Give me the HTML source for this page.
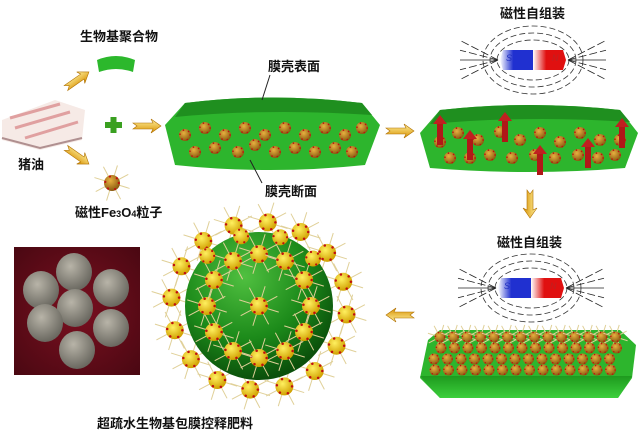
<!DOCTYPE html>
<html><head><meta charset="utf-8">
<style>
html,body{margin:0;padding:0;background:#fff;}
svg{display:block}
text{font-family:"Liberation Sans","Noto Sans CJK SC",sans-serif;font-weight:bold;fill:#111;}
</style></head><body>
<svg id="s" width="640" height="432" viewBox="0 0 640 432" xmlns="http://www.w3.org/2000/svg">
<defs>
<radialGradient id="pg" cx="40%" cy="35%" r="65%"><stop offset="0" stop-color="#e8b040"/><stop offset="1" stop-color="#8a5a10"/></radialGradient>
<radialGradient id="yg" cx="40%" cy="35%" r="65%"><stop offset="0" stop-color="#fff060"/><stop offset="1" stop-color="#d0a000"/></radialGradient>
<radialGradient id="sph" cx="40%" cy="30%" r="70%"><stop offset="0" stop-color="#50c040"/><stop offset="0.6" stop-color="#1c8a1a"/><stop offset="1" stop-color="#0b500b"/></radialGradient>
<linearGradient id="ar" x1="0" y1="0" x2="0" y2="1"><stop offset="0" stop-color="#fff2a0"/><stop offset="1" stop-color="#d89000"/></linearGradient>
<linearGradient id="sg" x1="0" y1="0" x2="1" y2="0"><stop offset="0" stop-color="#fff"/><stop offset="0.4" stop-color="#2030d0"/></linearGradient>
<linearGradient id="ng" x1="0" y1="0" x2="1" y2="0"><stop offset="0" stop-color="#fff"/><stop offset="0.4" stop-color="#e01010"/></linearGradient>
<linearGradient id="gs" x1="0" y1="0" x2="0" y2="1"><stop offset="0" stop-color="#1e9a1e"/><stop offset="1" stop-color="#3cd03c"/></linearGradient>
<radialGradient id="photo" cx="50%" cy="50%" r="70%"><stop offset="0" stop-color="#7a1020"/><stop offset="1" stop-color="#4a0812"/></radialGradient>
<radialGradient id="ball" cx="40%" cy="35%" r="65%"><stop offset="0" stop-color="#b8b4a8"/><stop offset="1" stop-color="#6a6860"/></radialGradient>
</defs>

<text x="80" y="41" font-size="13">生物基聚合物</text>
<text x="18" y="169" font-size="13">猪油</text>
<text x="75" y="217" font-size="13">磁性Fe<tspan font-size="9">3</tspan>O<tspan font-size="9">4</tspan>粒子</text>
<text x="268" y="71" font-size="13">膜壳表面</text>
<text x="265" y="196" font-size="13">膜壳断面</text>
<text x="500" y="18" font-size="13">磁性自组装</text>
<text x="497" y="247" font-size="13">磁性自组装</text>
<text x="97" y="428" font-size="13">超疏水生物基包膜控释肥料</text>

<g>
<path d="M2 120 L55 100 L85 110 L82 140 L40 150 L2 140Z" fill="#f6eae6"/>
<path d="M10 118 L60 104 M15 128 L70 112 M25 138 L78 122" stroke="#e0a0a0" stroke-width="3"/>
<path d="M2 138 L40 148 L82 138" stroke="#b09090" stroke-width="2" fill="none"/>
</g>
<path d="M97 60 Q116 52 135 60 L133 72 Q116 66 99 72Z" fill="#2cb82c"/>
<rect x="105" y="122" width="17" height="6" fill="#3aa020"/><rect x="110.5" y="117" width="6" height="16" fill="#3aa020"/>

<path d="M165 125 L185 103 Q270 92 362 103 L380 125 L365 165 Q270 175 175 165Z" fill="#2db52d"/>
<path d="M185 103 Q270 92 362 103 L372 115 Q270 108 175 117Z" fill="#1f8f1f"/>
<line x1="262" y1="100" x2="270" y2="75" stroke="#222"/>
<line x1="250" y1="160" x2="262" y2="183" stroke="#222"/>
<g id="p1"></g>

<path d="M420 133 L440 110 Q530 100 620 110 L638 133 L625 168 Q530 176 430 168Z" fill="#2db52d"/>
<path d="M440 110 Q530 100 620 110 L630 122 Q530 115 430 124Z" fill="#1f8f1f"/>
<g id="p2"></g>

<path d="M428 340 L440 330 L620 330 L636 345 L632 378 L618 398 L440 398 L420 378Z" fill="#2db52d"/>
<path d="M420 376 L632 376 L618 398 L440 398Z" fill="url(#gs)"/>
<g id="p3"></g>

<g id="mag1"></g><g id="mag2"></g>

<g fill="url(#ar)" stroke="#b07000" stroke-width="0.6">
<path d="M0 -3 L20 -3 L18 -7 L28 0 L18 7 L20 3 L0 3 L4 0Z" transform="translate(66,88) rotate(-35)"/>
<path d="M0 -3 L20 -3 L18 -7 L28 0 L18 7 L20 3 L0 3 L4 0Z" transform="translate(66,148) rotate(35)"/>
<path d="M0 -3 L20 -3 L18 -7 L28 0 L18 7 L20 3 L0 3 L4 0Z" transform="translate(133,126)"/>
<path d="M0 -3 L20 -3 L18 -7 L28 0 L18 7 L20 3 L0 3 L4 0Z" transform="translate(386,131)"/>
<path d="M0 -3 L20 -3 L18 -7 L28 0 L18 7 L20 3 L0 3 L4 0Z" transform="translate(530,190) rotate(90)"/>
<path d="M0 -3 L20 -3 L18 -7 L28 0 L18 7 L20 3 L0 3 L4 0Z" transform="translate(414,315) rotate(180)"/>
</g>

<rect x="14" y="247" width="126" height="128" fill="url(#photo)"/>
<g id="balls"></g>
<g id="sp"></g>
</svg>
<script>
var NS="http://www.w3.org/2000/svg";
function el(t,a,p){var e=document.createElementNS(NS,t);for(var k in a)e.setAttribute(k,a[k]);(p||document.getElementById('s')).appendChild(e);return e;}
function part(g,x,y,r,sp,fill){
 if(sp){for(var i=0;i<8;i++){var a=i*Math.PI/4+0.3;el('line',{x1:x,y1:y,x2:x+Math.cos(a)*r*2.3,y2:y+Math.sin(a)*r*2.3,stroke:'#e0d098','stroke-width':1},g);}}
 el('circle',{cx:x,cy:y,r:r,fill:fill||'url(#pg)'},g);
 for(var j=0;j<6;j++){var b=j*1.1;el('circle',{cx:x+Math.cos(b)*r*0.85,cy:y+Math.sin(b)*r*0.85,r:r*0.14,fill:'#c01010'},g);}
}
var g0=document.getElementById('s');
part(g0,112,183,8,true);
var p1=document.getElementById('p1');
[[185,135],[205,128],[225,135],[245,128],[265,135],[285,128],[305,135],[325,128],[345,135],[362,128],
 [195,152],[215,148],[238,152],[255,145],[275,152],[295,148],[315,152],[335,148],[352,152]].forEach(function(q){part(p1,q[0],q[1],6);});
var p2=document.getElementById('p2');
[[440,142],[458,133],[478,140],[500,132],[520,140],[540,133],[560,142],[580,133],[600,140],[620,140],
 [450,158],[470,158],[490,155],[512,158],[535,155],[555,158],[578,155],[598,158],[615,155]].forEach(function(q){part(p2,q[0],q[1],6);});
[[440,115],[505,112],[540,145],[470,130],[588,138],[622,118]].forEach(function(q){
 el('rect',{x:q[0]-3,y:q[1]+8,width:6,height:22,fill:'#b01818'},p2);
 el('path',{d:'M'+(q[0]-7)+' '+(q[1]+9)+' L'+q[0]+' '+q[1]+' L'+(q[0]+7)+' '+(q[1]+9)+'Z',fill:'#c02020'},p2);});
var p3=document.getElementById('p3');
for(var r=0;r<4;r++){for(var c=0;c<14;c++){var x=440+c*13.5+(r%2)*4-r*3,y=337+r*11;if(x<632)part(p3,x,y,5.5,r==0);}}
function mag(g,x,y){
 g=document.getElementById(g);
 var cx=x+33,cy=y+10;
 [20,27,34].forEach(function(rr){el('ellipse',{cx:cx,cy:cy,rx:rr+16,ry:rr,fill:'none',stroke:'#333','stroke-dasharray':'6 3','stroke-width':0.8},g);});
 [-1,1].forEach(function(s){var ex=s<0?x-2:x+68;[-14,-7,0,7,14].forEach(function(d){el('line',{x1:ex,y1:cy,x2:ex+s*38,y2:cy+d*1.4,stroke:'#222','stroke-width':0.8,'stroke-dasharray':d?'8 3':''},g);});});
 el('path',{d:'M'+(x+3)+' '+y+' L'+(x+33)+' '+y+' L'+(x+33)+' '+(y+20)+' L'+(x+3)+' '+(y+20)+' L'+x+' '+(y+10)+'Z',fill:'url(#sg)'},g);
 el('path',{d:'M'+(x+33)+' '+y+' L'+(x+63)+' '+y+' L'+(x+66)+' '+(y+10)+' L'+(x+63)+' '+(y+20)+' L'+(x+33)+' '+(y+20)+'Z',fill:'url(#ng)'},g);
 var t=el('text',{x:x+6,y:y+11,'font-size':9,style:'fill:#2030c0;font-weight:normal;font-style:italic'},g);t.textContent='S';
 var t2=el('text',{x:x+52,y:y+11,'font-size':9,style:'fill:#c02020;font-weight:normal;font-style:italic'},g);t2.textContent='N';
}
mag('mag1',500,50);mag('mag2',498,278);
var bl=document.getElementById('balls');
[[41,290],[74,272],[111,288],[75,308],[45,323],[111,328],[77,350]].forEach(function(q){el('ellipse',{cx:q[0],cy:q[1],rx:18,ry:19,fill:'url(#ball)'},bl);});
var sp=document.getElementById('sp');
var ocx=259,ocy=306;
for(var i=0;i<16;i++){var a=i*2*Math.PI/16+0.1;part(sp,ocx+Math.cos(a)*88,ocy+Math.sin(a)*84,9,true,'url(#yg)');}
el('circle',{cx:ocx,cy:ocy,r:74,fill:'url(#sph)'},sp);
for(var i=0;i<12;i++){var a=i*2*Math.PI/12;part(sp,ocx+Math.cos(a)*52,ocy+Math.sin(a)*52,9,true,'url(#yg)');}
for(var i=0;i<4;i++){var a=-Math.PI/2+i*0.55-0.8;part(sp,ocx+Math.cos(a)*72,ocy+Math.sin(a)*72,8,false,'url(#yg)');}
part(sp,ocx,ocy,9,true,'url(#yg)');
</script>
</body></html>
